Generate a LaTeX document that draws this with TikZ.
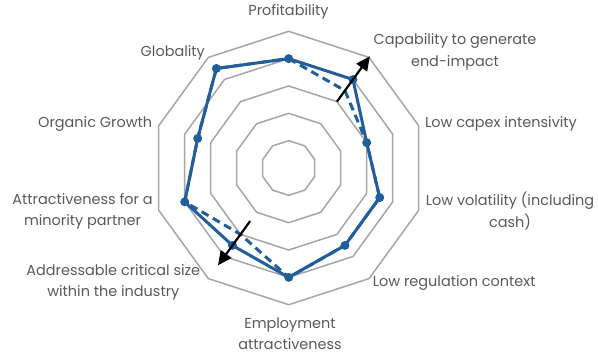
\documentclass[tikz,border=0pt]{standalone}
\usepackage{fontspec}
\setmainfont{Poppins}
\usetikzlibrary{arrows.meta}
\definecolor{gridgray}{RGB}{166,166,166}
\definecolor{serblue}{RGB}{33,94,154}
\definecolor{labgray}{RGB}{89,89,89}
\tikzset{
  ring/.style={draw=gridgray, line width=1.5bp, line join=miter},
  solidser/.style={draw=serblue, line width=3bp, line join=round},
  dashser/.style={draw=serblue, line width=3bp, dash pattern=on 8bp off 5bp},
  marker/.style={circle, fill=serblue, inner sep=0pt, minimum size=9bp},
  lab/.style={text=labgray, font=\fontsize{14.5}{21.5}\selectfont, inner sep=0pt, align=center},
  movearrow/.style={draw=black, line width=2.2bp, -{Triangle[length=14bp,width=13bp]}}
}
\newcommand{\cx}{288.7}
\newcommand{\cy}{168}
\newcommand{\st}{27.34}
\begin{document}
\begin{tikzpicture}[x=1bp,y=-1bp]
\useasboundingbox (0,0) rectangle (598,355);
% grid rings
\foreach \k in {1,...,5}{
  \draw[ring] ({\cx},{\cy-\k*\st})
    \foreach \i in {1,...,9}{ -- ({\cx+\k*\st*sin(36*\i)},{\cy-\k*\st*cos(36*\i)}) } -- cycle;
}
% data coordinates
\foreach \v [count=\i from 0] in {4,4,3,3.5,3.5,4,3.5,4,3.5,4.5}{
  \coordinate (s\i) at ({\cx+\v*\st*sin(36*\i)},{\cy-\v*\st*cos(36*\i)});
}
\foreach \v [count=\i from 0] in {4,3.5,3,3.5,3.5,4,3,4,3.5,4.5}{
  \coordinate (d\i) at ({\cx+\v*\st*sin(36*\i)},{\cy-\v*\st*cos(36*\i)});
}
\coordinate (a1s) at ({\cx+3*\st*sin(36)},{\cy-3*\st*cos(36)});
\coordinate (a1e) at ({\cx+5.05*\st*sin(36)},{\cy-5.05*\st*cos(36)});
\coordinate (a2s) at ({\cx+2.4*\st*sin(216)},{\cy-2.4*\st*cos(216)});
\coordinate (a2e) at ({\cx+4.4*\st*sin(216)},{\cy-4.4*\st*cos(216)});
% series
\draw[dashser] (d0) -- (d1) -- (d2) -- (d3) -- (d4) -- (d5) -- (d6) -- (d7) -- (d8) -- (d9) -- cycle;
\draw[solidser] (s0) -- (s1) -- (s2) -- (s3) -- (s4) -- (s5) -- (s6) -- (s7) -- (s8) -- (s9) -- cycle;
\foreach \i in {0,...,9}{ \node[marker] (m\i) at (s\i) {}; }
% arrows
\draw[movearrow] (a1s) -- (a1e);
\draw[movearrow] (a2s) -- (a2e);
% labels
\node[lab] (l0) at (288.5,11.5) {Profitability};
\node[lab] (l1) at (455,52) {Capability to generate\\end-impact};
\node[lab, anchor=west] (l2) at (425,123.5) {Low capex intensivity};
\node[lab] (l3) at (510,211) {Low volatility (including\\cash)};
\node[lab, anchor=west] (l4) at (372.7,282.5) {Low regulation context};
\node[lab] (l5) at (290,334) {Employment\\attractiveness};
\node[lab] (l6) at (113.3,282.5) {Addressable critical size\\within the industry};
\node[lab] (l7) at (82.5,211.5) {Attractiveness for a\\minority partner};
\node[lab, anchor=east] (l8) at (152.3,123.5) {Organic Growth};
\node[lab, anchor=east] (l9) at (205,52.5) {Globality};
\end{tikzpicture}
\end{document}
